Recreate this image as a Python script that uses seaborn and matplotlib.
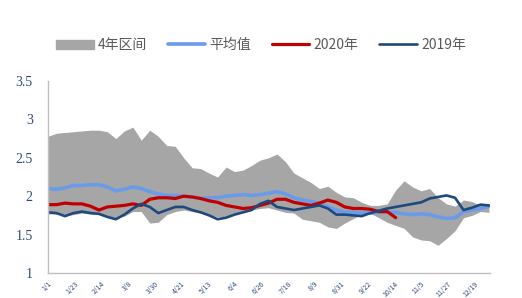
import numpy as np
import pandas as pd
import matplotlib
matplotlib.use("Agg")
import matplotlib.pyplot as plt
import seaborn as sns
from matplotlib.patches import Patch
from matplotlib.lines import Line2D

# weekly observations, day of year
days = list(range(0, 365, 7))

band_high = [2.78, 2.82, 2.83, 2.84, 2.85, 2.86, 2.86, 2.84, 2.75, 2.85,
             2.90, 2.73, 2.86, 2.78, 2.66, 2.65, 2.50, 2.37, 2.36, 2.30,
             2.25, 2.38, 2.32, 2.34, 2.40, 2.47, 2.50, 2.55, 2.45, 2.30,
             2.24, 2.18, 2.10, 2.13, 2.05, 1.99, 1.98, 1.92, 1.88, 1.88,
             1.90, 2.08, 2.20, 2.12, 2.07, 2.10, 1.98, 1.90, 1.87, 1.95,
             1.93, 1.88, 1.87]
band_low = [1.77, 1.77, 1.75, 1.76, 1.78, 1.77, 1.76, 1.74, 1.72, 1.74,
            1.80, 1.80, 1.65, 1.66, 1.76, 1.80, 1.82, 1.80, 1.78, 1.76,
            1.73, 1.74, 1.78, 1.80, 1.82, 1.84, 1.85, 1.82, 1.79, 1.78,
            1.70, 1.68, 1.66, 1.60, 1.58, 1.65, 1.71, 1.76, 1.78, 1.72,
            1.66, 1.62, 1.58, 1.47, 1.43, 1.42, 1.36, 1.45, 1.55, 1.72,
            1.75, 1.80, 1.79]
mean_vals = [2.10, 2.09, 2.11, 2.14, 2.14, 2.15, 2.15, 2.12, 2.07, 2.09,
             2.12, 2.10, 2.06, 2.03, 2.01, 2.01, 2.00, 1.99, 1.97, 1.98,
             1.98, 2.00, 2.01, 2.02, 2.01, 2.02, 2.04, 2.06, 2.03, 1.98,
             1.95, 1.93, 1.91, 1.86, 1.82, 1.79, 1.79, 1.78, 1.78, 1.79,
             1.79, 1.79, 1.77, 1.76, 1.77, 1.76, 1.73, 1.71, 1.72, 1.80,
             1.82, 1.84, 1.87]
y2020 = [1.89, 1.89, 1.91, 1.90, 1.90, 1.87, 1.82, 1.86, 1.87, 1.88,
         1.90, 1.88, 1.96, 1.98, 1.98, 1.97, 2.00, 1.99, 1.97, 1.94,
         1.92, 1.88, 1.86, 1.84, 1.85, 1.88, 1.91, 1.96, 1.96, 1.92,
         1.90, 1.88, 1.91, 1.95, 1.92, 1.86, 1.84, 1.84, 1.83, 1.80,
         1.80, 1.72]
y2019 = [1.79, 1.78, 1.74, 1.78, 1.80, 1.78, 1.77, 1.73, 1.70, 1.76,
         1.84, 1.90, 1.86, 1.78, 1.82, 1.86, 1.86, 1.82, 1.79, 1.75,
         1.70, 1.72, 1.76, 1.79, 1.82, 1.90, 1.94, 1.86, 1.84, 1.82,
         1.84, 1.86, 1.88, 1.84, 1.76, 1.76, 1.75, 1.74, 1.78, 1.81,
         1.84, 1.86, 1.88, 1.90, 1.92, 1.97, 1.99, 2.01, 1.98, 1.82,
         1.85, 1.89, 1.88]

label_days = list(range(0, 353, 22))
tick_labels = ["1/1", "1/23", "2/14", "3/8", "3/30", "4/21", "5/13",
               "6/4", "6/26", "7/18", "8/9", "8/31", "9/22", "10/14",
               "11/5", "11/27", "12/19"]

df = pd.DataFrame({"day": days, "high": band_high, "low": band_low,
                   "mean": mean_vals, "y2019": y2019})
df["y2020"] = pd.Series(y2020)

sns.set_style("white")
plt.rcParams["font.family"] = ["Noto Sans CJK SC", "DejaVu Sans"]

c_band = "#A6A6A6"
c_mean = "#6A9BEA"
c_2020 = "#C00000"
c_2019 = "#1F497D"
c_tick = "#2E4A7D"

fig = plt.figure(figsize=(5.22, 2.98), dpi=100)
ax = fig.add_axes([0.092, 0.084, 0.847, 0.644])

ax.fill_between(df["day"], df["low"], df["high"], color=c_band, lw=0)
sns.lineplot(data=df, x="day", y="mean", color=c_mean, lw=2.6, ax=ax)
sns.lineplot(data=df.dropna(subset=["y2020"]), x="day", y="y2020",
             color=c_2020, lw=2.3, ax=ax)
sns.lineplot(data=df, x="day", y="y2019", color=c_2019, lw=1.9, ax=ax)

ax.set_xlim(0, 365)
ax.set_ylim(1, 3.5)
ax.set_yticks([1, 1.5, 2, 2.5, 3, 3.5])
ax.set_yticklabels(["1", "1.5", "2", "2.5", "3", "3.5"],
                   family="Liberation Serif", fontsize=10, color=c_tick)
ax.set_xticks([60, 120, 180, 240, 300, 360])
ax.set_xticklabels([])
ax.tick_params(axis="x", direction="in", length=3, color="#BFBFBF")
ax.tick_params(axis="y", direction="out", length=3, color="#BFBFBF", pad=8)
ax.set_xlabel("")
ax.set_ylabel("")

for d, t in zip(label_days, tick_labels):
    ax.annotate(t, xy=(d, 1), xycoords="data", xytext=(4, -5),
                textcoords="offset points", rotation=45, ha="right", va="top",
                fontsize=5, color=c_tick, annotation_clip=False)

for s in ["top", "right"]:
    ax.spines[s].set_visible(False)
for s in ["left", "bottom"]:
    ax.spines[s].set_color("#BFBFBF")
    ax.spines[s].set_linewidth(1.0)

handles = [Patch(color=c_band),
           Line2D([], [], color=c_mean, lw=2.6),
           Line2D([], [], color=c_2020, lw=2.3),
           Line2D([], [], color=c_2019, lw=1.9)]
labels = ["4年区间", "平均值", "2020年", "2019年"]
fig.legend(handles, labels, loc="center", bbox_to_anchor=(0.5, 0.848),
           ncol=4, frameon=False, fontsize=10, labelcolor="#595959",
           handlelength=2.7, handleheight=0.7, handletextpad=0.3,
           columnspacing=1.5)

plt.savefig("out.png", dpi=100)
